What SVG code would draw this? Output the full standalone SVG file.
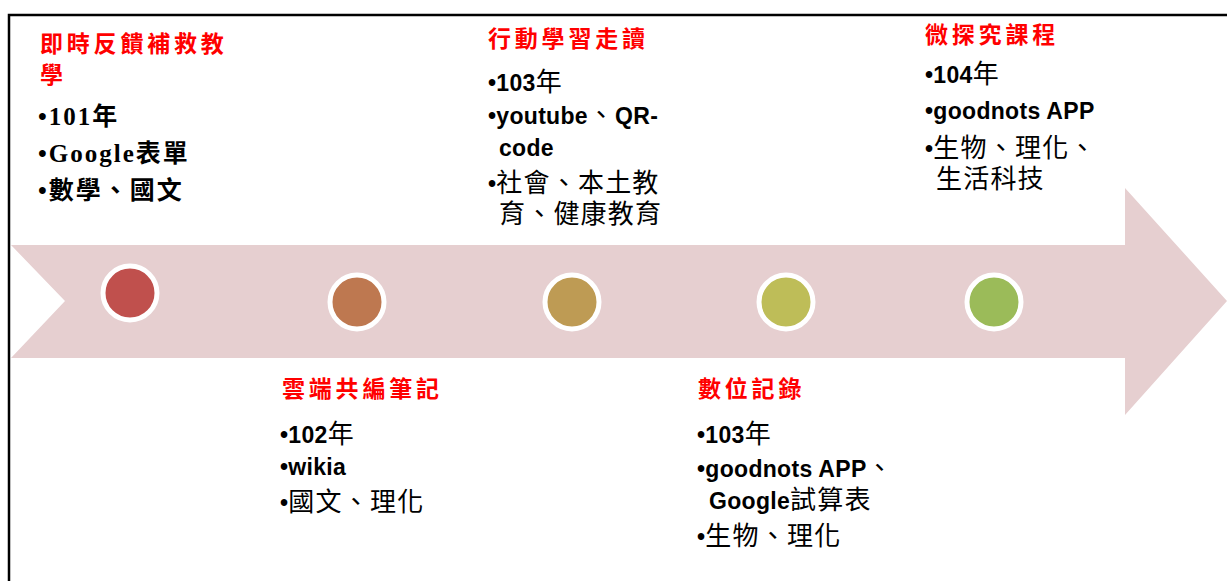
<svg xmlns="http://www.w3.org/2000/svg" width="1227" height="581" viewBox="0 0 1227 581">
<style>
.title{font-family:"Noto Sans CJK TC","Noto Sans CJK SC",sans-serif;font-size:23px;font-weight:700;fill:#FF0000;letter-spacing:3.8px}
.t{font-family:"Liberation Sans","Noto Sans CJK TC",sans-serif;font-size:26px;fill:#000;letter-spacing:1.2px}
.b{font-weight:700;font-size:23px;letter-spacing:0.3px}
.s{font-family:"Liberation Serif","Noto Sans CJK TC",serif;font-size:25px;font-weight:700;fill:#000;letter-spacing:2px}
.dot{stroke:#FFFFFF;stroke-width:5}
</style>
<rect x="0" y="0" width="1227" height="581" fill="#FFFFFF"/>
<path d="M9,581 V15 H1227" fill="none" stroke="#000" stroke-width="2.5"/>
<g id="arrow">
<polygon points="11,245 1125,245 1125,188 1227,301 1125,415 1125,358 11,358 65,301" fill="#E6CFD0"/>
</g>
<g id="dots">
<circle class="dot" cx="130" cy="293" r="27" fill="#C0504D"/>
<circle class="dot" cx="357" cy="302" r="27" fill="#BE7850"/>
<circle class="dot" cx="572" cy="302" r="27" fill="#BE9B54"/>
<circle class="dot" cx="786" cy="302" r="27" fill="#BEBD58"/>
<circle class="dot" cx="994" cy="302" r="27" fill="#9BBB59"/>
</g>
<g id="node1">
<text class="title" x="40" y="52">即時反饋補救教</text>
<text class="title" x="40" y="83">學</text>
<text class="s" x="38" y="125">•101年</text>
<text class="s" x="38" y="162">•Google表單</text>
<text class="s" x="38" y="199">•數學、國文</text>
</g>
<g id="node2">
<text class="title" x="282" y="397">雲端共編筆記</text>
<text class="t" x="280" y="443"><tspan class="b">•102</tspan>年</text>
<text class="t" x="280" y="475"><tspan class="b">•wikia</tspan></text>
<text class="t" x="280" y="511"><tspan class="b">•</tspan>國文、理化</text>
</g>
<g id="node3">
<text class="title" x="488" y="47">行動學習走讀</text>
<text class="t" x="488" y="91"><tspan class="b">•103</tspan>年</text>
<text class="t" x="488" y="124"><tspan class="b">•youtube</tspan>、<tspan class="b">QR-</tspan></text>
<text class="t" x="499" y="156"><tspan class="b">code</tspan></text>
<text class="t" x="488" y="192"><tspan class="b">•</tspan>社會、本土教</text>
<text class="t" x="499" y="223">育、健康教育</text>
</g>
<g id="node4">
<text class="title" x="698" y="397">數位記錄</text>
<text class="t" x="697" y="443"><tspan class="b">•103</tspan>年</text>
<text class="t" x="697" y="477"><tspan class="b">•goodnots APP</tspan>、</text>
<text class="t" x="709" y="509"><tspan class="b">Google</tspan>試算表</text>
<text class="t" x="697" y="545"><tspan class="b">•</tspan>生物、理化</text>
</g>
<g id="node5">
<text class="title" x="925" y="43">微探究課程</text>
<text class="t" x="925" y="83"><tspan class="b">•104</tspan>年</text>
<text class="t" x="925" y="119"><tspan class="b">•goodnots APP</tspan></text>
<text class="t" x="925" y="157"><tspan class="b">•</tspan>生物、理化、</text>
<text class="t" x="936" y="188">生活科技</text>
</g>
</svg>
